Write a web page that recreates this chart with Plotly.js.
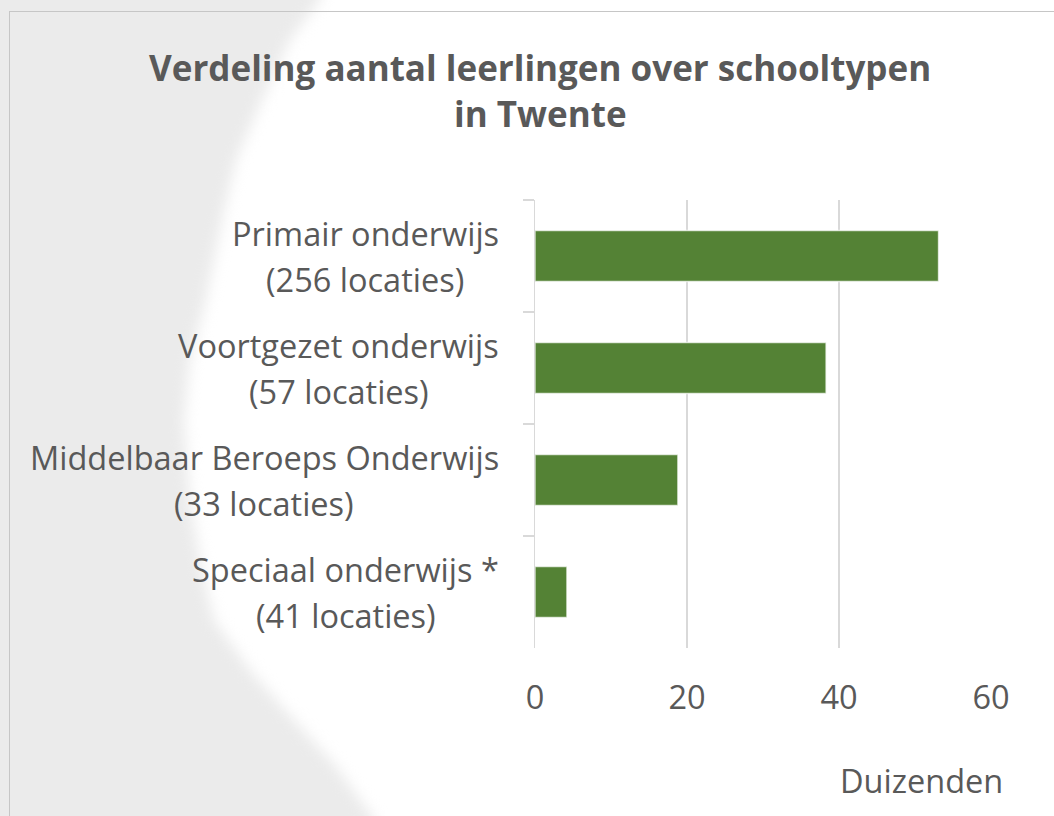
<!DOCTYPE html>
<html>
<head>
<meta charset="utf-8">
<script src="https://cdn.plot.ly/plotly-3.0.1.min.js"></script>
<style>
  html, body { margin: 0; padding: 0; background: #ffffff; overflow: hidden; }
  #wrap { position: relative; width: 1054px; height: 816px; overflow: hidden; }
  #wmblur { position: absolute; left: -30px; top: -30px; width: 1100px; height: 880px; filter: blur(7px); }
  #wm { position: absolute; left: 0; top: 0; width: 1100px; height: 880px; background: #ebebeb;
        clip-path: polygon(0px 0px, 355px 0px, 350px 30px, 320px 70px, 292px 130px, 266px 190px, 252px 250px, 236px 330px, 220px 390px, 214px 450px, 220px 530px, 230px 590px, 244px 650px, 280px 700px, 315px 740px, 365px 795px, 402px 846px, 420px 880px, 0px 880px); }
  #frame { position: absolute; left: 9px; top: 11px; width: 1100px; height: 900px; border: 1.5px solid #c6c6c6; }
  #chart { position: absolute; left: 0; top: 0; width: 1054px; height: 816px; }
</style>
</head>
<body>
<div id="wrap">
  <div id="wmblur"><div id="wm"></div></div>
  <div id="frame"></div>
  <div id="chart"></div>
</div>
<script>
const categoryNames = ["Primair onderwijs", "Voortgezet onderwijs", "Middelbaar Beroeps Onderwijs", "Speciaal onderwijs *"];
const locationCounts = [256, 57, 33, 41];
const studentsThousands = [53.1, 38.3, 18.8, 4.2];
const xTickValues = [0, 20, 40, 60];
const xTickLabels = ["0", "20", "40", "60"];
const titleLines = ["Verdeling aantal leerlingen over schooltypen", "in Twente"];
const unitLabel = "Duizenden";

const textColor = "#595959";
const fontFamily = "'Open Sans', Lato, sans-serif";
const labelSize = 32.5;
const titleSize = 35;

// plot area geometry (pixels)
const W = 1054, H = 816;
const M = { l: 535, r: 63, t: 200, b: 168 };
const plotW = W - M.l - M.r, plotH = H - M.t - M.b;
const pxToPaperX = px => (px - M.l) / plotW;
const pyToPaperY = py => (H - M.b - py) / plotH;

const ctx = document.createElement("canvas").getContext("2d");
ctx.font = labelSize + "px 'Open Sans'";

const labelRight = 499;
const labelAnnotations = [];
categoryNames.forEach((name, i) => {
  const loc = "(" + locationCounts[i] + " locaties)";
  const w1 = ctx.measureText(name).width;
  const w2 = ctx.measureText(loc).width;
  const wMax = Math.max(w1, w2);
  const centerPx = labelRight - wMax / 2;
  labelAnnotations.push({
    xref: "paper", yref: "y", x: pxToPaperX(centerPx), y: name,
    xanchor: "center", yanchor: "middle", yshift: 23,
    text: name, showarrow: false,
    font: { family: fontFamily, size: labelSize, color: textColor }
  });
  labelAnnotations.push({
    xref: "paper", yref: "y", x: pxToPaperX(centerPx), y: name,
    xanchor: "center", yanchor: "middle", yshift: -23,
    text: loc, showarrow: false,
    font: { family: fontFamily, size: labelSize, color: textColor }
  });
});

const titleCenters = [67, 114];
const titleAnnotations = titleLines.map((t, i) => ({
  xref: "paper", yref: "paper", x: pxToPaperX(540), y: pyToPaperY(titleCenters[i]),
  xanchor: "center", yanchor: "middle",
  text: "<b>" + t + "</b>", showarrow: false,
  font: { family: fontFamily, size: titleSize, color: textColor }
}));

const trace = {
  type: "bar",
  orientation: "h",
  x: studentsThousands,
  y: categoryNames,
  marker: { color: "#548235", line: { color: "rgba(255,255,255,0.7)", width: 1.5 } },
  hoverinfo: "x+y"
};

const layout = {
  width: W, height: H,
  paper_bgcolor: "rgba(0,0,0,0)",
  plot_bgcolor: "rgba(0,0,0,0)",
  margin: M,
  showlegend: false,
  bargap: 0.545,
  xaxis: {
    range: [0, 60],
    tickvals: xTickValues,
    ticktext: xTickLabels,
    showgrid: true,
    gridcolor: "#d9d9d9",
    gridwidth: 1.5,
    zeroline: false,
    showline: false,
    ticks: "",
    ticklabelstandoff: 27,
    tickfont: { family: fontFamily, size: labelSize, color: textColor },
    fixedrange: true
  },
  yaxis: {
    type: "category",
    autorange: "reversed",
    showticklabels: false,
    showline: true,
    linecolor: "#d9d9d9",
    linewidth: 1.5,
    ticks: "outside",
    tickson: "boundaries",
    ticklen: 11,
    tickwidth: 1.5,
    tickcolor: "#d9d9d9",
    showgrid: false,
    zeroline: false,
    fixedrange: true
  },
  annotations: titleAnnotations.concat(labelAnnotations, [{
    xref: "paper", yref: "paper",
    x: pxToPaperX(921), y: pyToPaperY(780),
    xanchor: "center", yanchor: "middle",
    text: unitLabel, showarrow: false,
    font: { family: fontFamily, size: labelSize, color: textColor }
  }])
};

Plotly.newPlot("chart", [trace], layout, { displayModeBar: false, staticPlot: true });
</script>
</body>
</html>
